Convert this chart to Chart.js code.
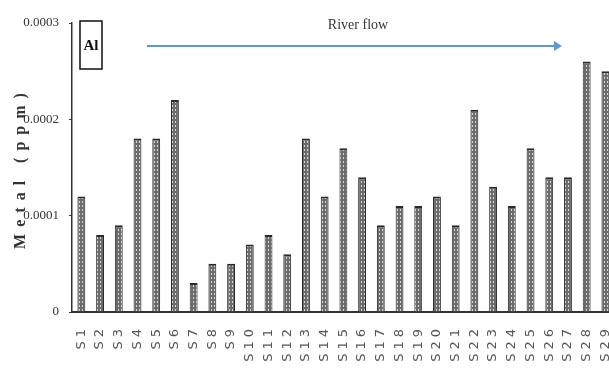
<!DOCTYPE html>
<html>
<head>
<meta charset="utf-8">
<script src="https://cdn.jsdelivr.net/npm/chart.js@4/dist/chart.umd.min.js"></script>
<style>
  html, body { margin: 0; padding: 0; background: #fff; overflow: hidden; }
  #wrap { width: 609px; height: 376px; overflow: hidden; }
  canvas { display: block; }
</style>
</head>
<body>
<div id="wrap"><canvas id="c" width="634" height="376"></canvas></div>
<script>
// Sampling sites along the river, upstream to downstream
const sites = ['S1','S2','S3','S4','S5','S6','S7','S8','S9','S10','S11','S12','S13','S14','S15',
               'S16','S17','S18','S19','S20','S21','S22','S23','S24','S25','S26','S27','S28','S29'];
// Aluminium concentration (ppm) at each site
const alValues = [0.00012,0.00008,0.00009,0.00018,0.00018,0.00022,0.00003,0.00005,0.00005,0.00007,
                  0.00008,0.00006,0.00018,0.00012,0.00017,0.00014,0.00009,0.00011,0.00011,0.00012,
                  0.00009,0.00021,0.00013,0.00011,0.00017,0.00014,0.00014,0.00026,0.00025];
// Value axis ticks
const yTicks = [0, 0.0001, 0.0002, 0.0003];
const yTickLabels = ['0', '0.0001', '0.0002', '0.0003'];

// Dotted grey fill for the bars
function dotPattern() {
  const p = document.createElement('canvas');
  p.width = 3; p.height = 4;
  const g = p.getContext('2d');
  g.fillStyle = '#6c6c6c';
  g.fillRect(0, 0, 3, 4);
  g.fillStyle = '#d6d6d6';
  g.fillRect(1, 1, 1, 2);
  return g.createPattern(p, 'repeat');
}

// Wrap a scale drawing routine so its text is drawn with extra letter spacing
function spaced(scale, method, spacing) {
  if (scale['_sp_' + method]) return;
  const orig = scale[method];
  scale[method] = function (...args) {
    const ctx = this.ctx;
    const prev = ctx.letterSpacing;
    ctx.letterSpacing = spacing;
    orig.apply(this, args);
    ctx.letterSpacing = prev || '0px';
  };
  scale['_sp_' + method] = true;
}

// Panel label box, river-flow arrow and caption
const decorations = {
  id: 'decorations',
  afterDraw(chart) {
    const ctx = chart.ctx;
    const a = chart.chartArea;
    ctx.save();
    // "Al" box
    ctx.strokeStyle = '#111';
    ctx.lineWidth = 1.5;
    ctx.strokeRect(a.left + 8, 21, 22, 48);
    ctx.fillStyle = '#111';
    ctx.font = 'bold 15px "Liberation Serif", serif';
    ctx.textAlign = 'center';
    ctx.textBaseline = 'middle';
    ctx.fillText('Al', a.left + 19, 46);
    // arrow
    const y = 46, x0 = 147, x1 = 562;
    ctx.strokeStyle = '#5b9bd5';
    ctx.lineWidth = 2;
    ctx.beginPath();
    ctx.moveTo(x0, y);
    ctx.lineTo(x1 - 6, y);
    ctx.stroke();
    ctx.fillStyle = '#5b9bd5';
    ctx.beginPath();
    ctx.moveTo(x1, y);
    ctx.lineTo(x1 - 8, y - 5);
    ctx.lineTo(x1 - 8, y + 5);
    ctx.closePath();
    ctx.fill();
    // caption
    ctx.fillStyle = '#333';
    ctx.font = '14px "Liberation Serif", serif';
    ctx.textAlign = 'center';
    ctx.textBaseline = 'middle';
    ctx.fillText('River flow', 358, 25);
    ctx.restore();
  }
};

new Chart(document.getElementById('c'), {
  type: 'bar',
  data: {
    labels: sites,
    datasets: [{
      label: 'Al',
      data: alValues,
      backgroundColor: dotPattern(),
      borderColor: '#2a2a2a',
      borderWidth: { top: 2, left: 1, right: 1, bottom: 0 },
      borderSkipped: false,
      barPercentage: 0.42,
      categoryPercentage: 1
    }]
  },
  options: {
    responsive: false,
    animation: false,
    layout: { padding: { top: 23, right: 0, left: 0, bottom: 0 } },
    plugins: { legend: { display: false }, tooltip: { enabled: false } },
    scales: {
      x: {
        offset: true,
        grid: { display: false, drawTicks: false },
        border: { display: true, color: '#333', width: 2 },
        ticks: {
          minRotation: 90, maxRotation: 90, autoSkip: false, padding: 13,
          color: '#555',
          font: { family: '"DejaVu Sans", sans-serif', size: 13 }
        },
        afterFit(scale) {
          scale.height = 64;
          spaced(scale, 'drawLabels', '4px');
        }
      },
      y: {
        min: 0, max: 0.0003,
        afterBuildTicks(scale) { scale.ticks = yTicks.map(v => ({ value: v })); },
        grid: { display: true, drawOnChartArea: false, tickLength: 3, color: '#333' },
        border: { display: true, color: '#333', width: 1.5 },
        ticks: {
          padding: 10,
          color: '#333',
          font: { family: '"Liberation Serif", serif', size: 13 },
          callback: (v, i) => yTickLabels[i]
        },
        title: {
          display: true,
          text: 'Metal (ppm)',
          color: '#333',
          font: { family: '"Liberation Serif", serif', size: 16, weight: 'bold' },
          padding: { top: 11, bottom: 0 }
        },
        afterFit(scale) {
          scale.width = 72;
          spaced(scale, 'drawTitle', '7px');
        }
      }
    }
  },
  plugins: [decorations]
});
</script>
</body>
</html>
